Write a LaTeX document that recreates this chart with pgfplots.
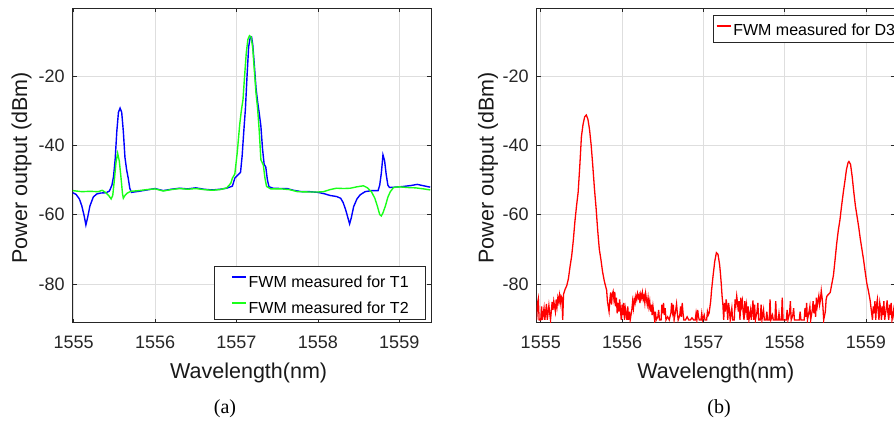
\documentclass[border=0pt]{standalone}
\usepackage{fontspec}
\setmainfont{Liberation Sans}
\newfontfamily\capfont{Liberation Serif}
\usepackage{pgfplots}
\pgfplotsset{compat=1.18}
\pgfplotsset{
  myax/.style={
    scale only axis, width=358.3pt, height=314.4pt, anchor=south west,
    ymin=-91.2, ymax=-0.5,
    xtick={1555,1556,1557,1558,1559}, xticklabels={1555,1556,1557,1558,1559},
    ytick={-80,-60,-40,-20}, yticklabels={-80,-60,-40,-20},
    tick align=inside, major tick length=4pt,
    tick style={black!85, line width=0.6pt},
    grid=major, major grid style={black!13, line width=0.6pt},
    axis line style={black!85, line width=0.8pt},
    ticklabel style={font=\fontsize{18}{20}\selectfont, text=black!85},
    x tick label style={yshift=-10pt},
    y tick label style={xshift=-4.5pt},
    label style={font=\fontsize{21.5}{24}\selectfont, text=black!90},
    xlabel={Wavelength(nm)}, ylabel={Power output (dBm)},
    legend image code/.code={\draw[##1] (0pt,3pt) -- (14pt,3pt);},
  },
  redleg/.style={
    legend image code/.code={\draw[##1, line width=1.5pt, draw={rgb,1:red,1;green,0;blue,0}] (1pt,3pt) -- (15pt,3pt);},
  }
}
\begin{document}
\begin{tikzpicture}
\path[use as bounding box] (0,0) rectangle (894pt,428pt);
\begin{axis}[myax, at={(72.7pt,105.3pt)},
  xmin=1554.988, xmax=1559.39,
  xlabel style={at={(axis description cs:0.491,-0.179)}, anchor=base},
  ylabel style={at={(axis description cs:-0.127,0.492)}, anchor=base},
  legend style={at={(0.986,0.0086)}, anchor=south east, draw=black!85, line width=0.6pt, fill=white,
    font=\fontsize{16}{18}\selectfont, inner xsep=17pt, inner ysep=5.5pt, row sep=10pt,
    nodes={inner sep=0pt, text height=15pt, text depth=1pt},
    /tikz/every odd column/.style={column sep=2pt}},
  legend cell align=left]
\addplot[color={rgb,1:red,0;green,0;blue,1}, line width=1.4pt] table {
1554.99 -53.7
1555.03 -54.2
1555.07 -55.5
1555.10 -57.5
1555.13 -60.5
1555.15 -63.0
1555.17 -61.0
1555.20 -57.5
1555.24 -55.0
1555.28 -54.1
1555.33 -53.8
1555.40 -53.7
1555.44 -53.2
1555.47 -51.5
1555.49 -49.0
1555.51 -44.0
1555.53 -36.0
1555.55 -30.5
1555.57 -29.3
1555.59 -30.5
1555.61 -36.0
1555.63 -43.5
1555.65 -47.0
1555.67 -49.5
1555.69 -52.5
1555.71 -53.6
1555.80 -53.3
1555.90 -52.9
1556.00 -52.5
1556.10 -53.1
1556.20 -52.7
1556.30 -52.4
1556.40 -52.6
1556.50 -52.3
1556.60 -52.7
1556.70 -52.9
1556.80 -52.7
1556.88 -52.4
1556.95 -51.8
1556.98 -49.5
1557.02 -48.5
1557.05 -47.8
1557.07 -43.0
1557.09 -36.0
1557.11 -29.5
1557.13 -20.0
1557.15 -11.5
1557.17 -8.8
1557.185 -8.7
1557.20 -11.0
1557.22 -17.0
1557.24 -23.5
1557.26 -27.5
1557.28 -30.8
1557.30 -34.5
1557.32 -41.0
1557.34 -45.5
1557.36 -46.3
1557.38 -50.0
1557.40 -52.0
1557.45 -52.4
1557.55 -52.5
1557.62 -52.5
1557.70 -53.0
1557.80 -53.4
1557.90 -53.4
1558.00 -53.6
1558.08 -54.0
1558.15 -54.5
1558.23 -54.8
1558.28 -55.3
1558.31 -56.5
1558.34 -58.5
1558.37 -61.0
1558.39 -62.7
1558.41 -61.0
1558.44 -57.7
1558.48 -55.5
1558.52 -54.3
1558.58 -53.4
1558.66 -53.1
1558.74 -53.1
1558.76 -51.5
1558.78 -48.0
1558.80 -42.8
1558.82 -44.5
1558.84 -48.5
1558.86 -51.5
1558.88 -52.2
1558.95 -52.1
1559.05 -51.9
1559.15 -51.6
1559.22 -51.3
1559.30 -51.7
1559.38 -52.1
};
\addlegendentry{FWM measured for T1}
\addplot[color={rgb,1:red,0.1;green,1;blue,0.1}, line width=1.4pt] table {
1554.99 -53.1
1555.10 -53.4
1555.20 -53.3
1555.30 -53.4
1555.35 -53.0
1555.39 -53.6
1555.43 -54.5
1555.46 -55.5
1555.48 -54.5
1555.50 -50.0
1555.52 -45.0
1555.54 -42.3
1555.56 -44.5
1555.58 -49.0
1555.60 -54.0
1555.61 -55.3
1555.63 -54.5
1555.66 -53.8
1555.70 -53.3
1555.80 -53.1
1555.90 -52.8
1556.00 -52.6
1556.10 -53.2
1556.20 -52.8
1556.30 -52.5
1556.40 -52.7
1556.50 -52.5
1556.60 -52.8
1556.70 -53.0
1556.80 -52.8
1556.88 -52.3
1556.93 -51.0
1556.95 -49.5
1556.98 -48.3
1557.01 -42.0
1557.04 -34.0
1557.06 -30.0
1557.08 -26.9
1557.10 -20.0
1557.12 -13.5
1557.14 -9.5
1557.16 -8.4
1557.18 -8.8
1557.20 -12.0
1557.22 -18.5
1557.24 -25.0
1557.26 -29.5
1557.28 -36.0
1557.30 -44.2
1557.33 -45.7
1557.35 -49.5
1557.37 -51.9
1557.42 -52.6
1557.55 -52.6
1557.65 -52.8
1557.75 -53.4
1557.90 -53.5
1558.00 -53.5
1558.07 -53.4
1558.15 -52.8
1558.23 -52.4
1558.32 -52.5
1558.40 -52.4
1558.48 -52.0
1558.56 -51.7
1558.61 -52.3
1558.66 -53.5
1558.70 -55.3
1558.73 -57.5
1558.76 -60.0
1558.78 -60.4
1558.80 -59.5
1558.83 -57.5
1558.86 -55.0
1558.89 -53.4
1558.93 -52.2
1559.00 -52.0
1559.10 -52.2
1559.20 -52.3
1559.30 -52.6
1559.38 -52.9
};
\addlegendentry{FWM measured for T2}
\end{axis}
\begin{axis}[myax, redleg, at={(536.7pt,105.3pt)},
  xmin=1554.95, xmax=1559.357,
  xlabel style={at={(axis description cs:0.5,-0.179)}, anchor=base},
  ylabel style={at={(axis description cs:-0.12,0.492)}, anchor=base},
  legend style={at={(0.492,0.9787)}, anchor=north west, draw=black!85, line width=0.6pt, fill=white,
    font=\fontsize{16}{18}\selectfont, inner xsep=2.5pt, inner ysep=5.5pt,
    nodes={inner sep=0pt, text height=15pt, text depth=1pt},
    /tikz/every odd column/.style={column sep=2pt}},
  legend cell align=left]
\addplot[color={rgb,1:red,1;green,0;blue,0}, line width=1.3pt] table {
1554.95 -90.3
1554.96 -85.5
1554.97 -84.3
1554.98 -90.4
1555.00 -90.4
1555.01 -86.5
1555.02 -90.4
1555.04 -87.0
1555.05 -90.4
1555.07 -85.8
1555.08 -90.4
1555.10 -86.2
1555.11 -88.5
1555.12 -90.4
1555.14 -85.2
1555.15 -87.5
1555.16 -85.0
1555.18 -88.0
1555.19 -84.5
1555.20 -86.5
1555.21 -84.0
1555.22 -85.2
1555.23 -83.3
1555.24 -85.5
1555.25 -83.5
1555.26 -84.0
1555.27 -90.4
1555.28 -83.0
1555.30 -81.5
1555.32 -80.5
1555.34 -78.5
1555.36 -75.0
1555.38 -72.0
1555.40 -67.5
1555.42 -62.0
1555.44 -57.5
1555.46 -53.5
1555.48 -46.0
1555.50 -37.5
1555.52 -34.0
1555.54 -31.8
1555.56 -31.3
1555.58 -32.5
1555.60 -35.5
1555.62 -40.0
1555.64 -46.0
1555.66 -52.5
1555.68 -58.0
1555.70 -64.5
1555.72 -70.0
1555.74 -73.0
1555.76 -76.5
1555.78 -79.0
1555.79 -80.0
1555.81 -81.8
1555.82 -85.0
1555.83 -86.5
1555.84 -88.0
1555.85 -84.5
1555.86 -82.5
1555.87 -86.0
1555.88 -83.0
1555.89 -82.2
1555.90 -84.5
1555.91 -82.3
1555.92 -86.5
1555.93 -84.0
1555.94 -88.5
1555.95 -85.5
1555.96 -88.0
1555.97 -84.5
1555.98 -87.5
1555.99 -90.4
1556.00 -86.0
1556.01 -89.0
1556.02 -85.5
1556.03 -90.4
1556.04 -87.0
1556.05 -88.5
1556.06 -90.4
1556.07 -86.5
1556.08 -90.4
1556.09 -88.0
1556.10 -90.4
1556.12 -87.5
1556.13 -85.0
1556.14 -87.0
1556.15 -84.5
1556.16 -85.5
1556.17 -83.5
1556.18 -84.5
1556.19 -82.8
1556.20 -84.0
1556.21 -83.2
1556.22 -85.5
1556.23 -83.0
1556.24 -84.0
1556.25 -82.5
1556.26 -84.5
1556.27 -83.5
1556.28 -85.5
1556.29 -82.8
1556.30 -84.5
1556.31 -86.0
1556.32 -84.0
1556.33 -86.5
1556.34 -85.0
1556.35 -88.0
1556.36 -86.0
1556.37 -89.0
1556.38 -86.5
1556.39 -88.5
1556.40 -90.4
1556.41 -88.0
1556.42 -90.4
1556.44 -89.5
1556.45 -87.5
1556.46 -90.4
1556.48 -90.4
1556.49 -86.0
1556.50 -88.5
1556.51 -85.5
1556.52 -89.0
1556.53 -87.0
1556.54 -90.4
1556.56 -89.5
1556.58 -90.4
1556.60 -88.5
1556.61 -85.5
1556.62 -88.0
1556.63 -86.0
1556.64 -90.4
1556.66 -87.5
1556.67 -85.8
1556.68 -88.5
1556.69 -90.4
1556.71 -89.0
1556.72 -86.5
1556.73 -89.5
1556.74 -85.5
1556.75 -88.5
1556.76 -90.4
1556.78 -90.4
1556.80 -89.5
1556.82 -90.4
1556.84 -90.4
1556.86 -89.8
1556.88 -90.4
1556.90 -90.4
1556.91 -88.5
1556.92 -90.4
1556.93 -87.5
1556.94 -89.5
1556.95 -90.4
1556.97 -90.4
1556.98 -88.5
1556.99 -90.4
1557.01 -89.0
1557.02 -90.4
1557.04 -90.4
1557.05 -88.0
1557.06 -89.0
1557.07 -88.5
1557.09 -85.0
1557.10 -82.0
1557.12 -77.5
1557.14 -73.5
1557.16 -71.0
1557.18 -71.5
1557.20 -74.5
1557.21 -77.0
1557.22 -80.0
1557.23 -83.5
1557.24 -86.0
1557.25 -90.4
1557.26 -85.5
1557.27 -88.0
1557.28 -84.5
1557.29 -86.5
1557.30 -90.4
1557.31 -85.5
1557.32 -87.5
1557.33 -90.4
1557.35 -87.0
1557.36 -90.4
1557.38 -90.4
1557.39 -84.5
1557.40 -86.0
1557.41 -83.5
1557.42 -85.5
1557.43 -88.0
1557.44 -85.0
1557.45 -90.4
1557.46 -84.0
1557.47 -86.5
1557.48 -85.0
1557.49 -88.5
1557.50 -90.4
1557.51 -85.0
1557.52 -87.5
1557.53 -86.0
1557.54 -90.4
1557.55 -86.5
1557.56 -90.4
1557.58 -87.5
1557.59 -90.4
1557.61 -84.8
1557.62 -90.4
1557.63 -86.0
1557.64 -90.4
1557.66 -88.0
1557.67 -85.5
1557.68 -90.4
1557.70 -90.4
1557.71 -86.0
1557.72 -90.4
1557.74 -87.5
1557.75 -90.4
1557.77 -90.4
1557.78 -88.0
1557.79 -90.4
1557.81 -90.4
1557.82 -84.5
1557.83 -90.4
1557.85 -89.0
1557.86 -90.4
1557.88 -90.4
1557.89 -85.0
1557.90 -90.4
1557.92 -90.4
1557.93 -88.5
1557.94 -90.4
1557.96 -90.4
1557.97 -84.0
1557.98 -90.4
1558.00 -90.4
1558.02 -90.4
1558.03 -87.5
1558.04 -90.4
1558.06 -88.5
1558.07 -85.0
1558.08 -90.4
1558.10 -89.0
1558.11 -87.0
1558.12 -90.4
1558.14 -90.4
1558.16 -90.4
1558.18 -90.4
1558.19 -88.0
1558.20 -90.4
1558.22 -90.4
1558.24 -90.4
1558.25 -87.0
1558.26 -89.5
1558.27 -85.5
1558.28 -90.4
1558.30 -88.0
1558.31 -86.5
1558.32 -90.4
1558.34 -87.5
1558.35 -85.0
1558.36 -88.5
1558.37 -86.0
1558.38 -89.5
1558.39 -84.0
1558.40 -86.5
1558.41 -85.0
1558.42 -83.5
1558.43 -86.0
1558.44 -84.5
1558.45 -82.0
1558.46 -84.0
1558.47 -86.5
1558.48 -90.4
1558.50 -88.0
1558.51 -84.5
1558.52 -83.5
1558.54 -83.0
1558.56 -82.5
1558.58 -80.0
1558.60 -77.5
1558.62 -73.0
1558.64 -68.3
1558.66 -64.5
1558.68 -61.5
1558.70 -57.5
1558.72 -53.8
1558.74 -50.5
1558.76 -47.0
1558.78 -45.0
1558.79 -44.7
1558.81 -45.5
1558.83 -49.0
1558.85 -53.5
1558.87 -57.5
1558.89 -60.5
1558.91 -63.5
1558.93 -67.0
1558.95 -70.0
1558.97 -73.0
1558.99 -76.5
1559.01 -79.8
1559.03 -82.0
1559.05 -84.6
1559.06 -86.5
1559.07 -88.5
1559.08 -90.4
1559.09 -86.5
1559.10 -88.5
1559.11 -85.0
1559.12 -90.4
1559.13 -86.0
1559.14 -84.5
1559.15 -88.0
1559.16 -90.4
1559.17 -85.5
1559.18 -87.0
1559.19 -90.4
1559.20 -86.5
1559.21 -89.0
1559.22 -85.0
1559.23 -90.4
1559.25 -87.0
1559.26 -84.8
1559.27 -88.5
1559.28 -90.4
1559.29 -86.0
1559.30 -89.0
1559.31 -85.5
1559.32 -90.4
1559.34 -87.5
1559.35 -90.4
1559.357 -86.0
};
\addlegendentry{FWM measured for D3}
\end{axis}
\node[font=\capfont\fontsize{20}{22}\selectfont, anchor=base] at (225pt,14.5pt) {(a)};
\node[font=\capfont\fontsize{20}{22}\selectfont, anchor=base] at (719pt,14.5pt) {(b)};
\end{tikzpicture}
\end{document}
